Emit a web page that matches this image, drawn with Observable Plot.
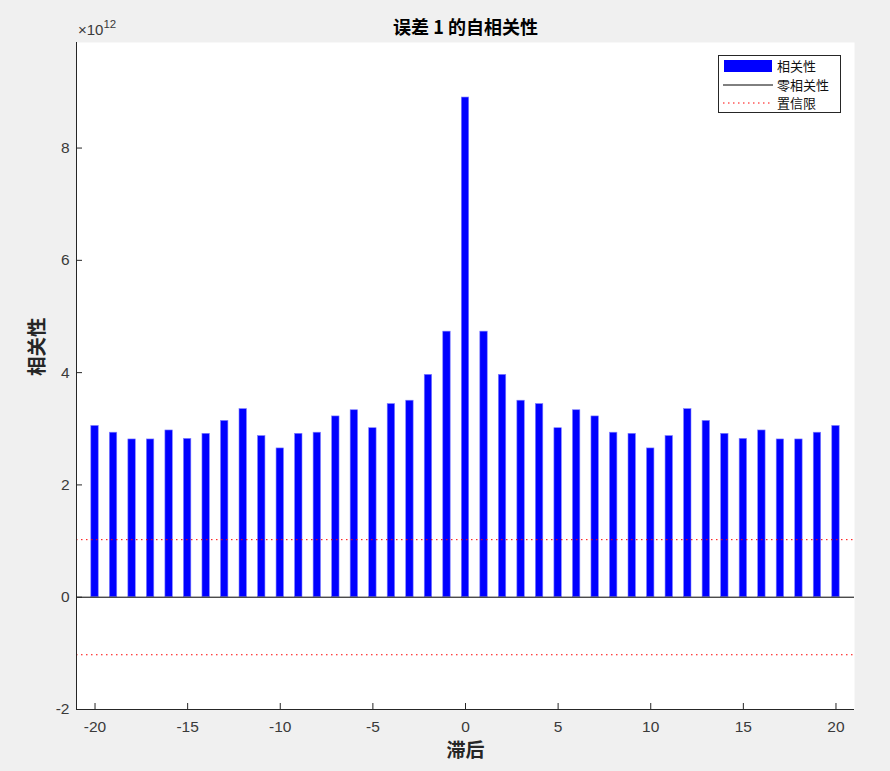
<!DOCTYPE html>
<html>
<head>
<meta charset="utf-8">
<script src="https://cdn.jsdelivr.net/npm/d3@7"></script>
<script src="https://cdn.jsdelivr.net/npm/@observablehq/plot@0.6"></script>
<style>
  html, body { margin: 0; padding: 0; background: #f0f0f0; }
  #wrap { position: relative; width: 890px; height: 771px; }
  #legend {
    position: absolute; left: 718px; top: 55px; width: 123px; height: 58px;
    background: #fff; border: 1px solid #262626; box-sizing: border-box;
    font-family: "Noto Sans CJK SC", sans-serif; font-size: 13px; color: #111;
  }
  #legend .row { position: absolute; left: 4px; height: 18px; display: flex; align-items: center; }
  #legend .row span { margin-left: 4px; line-height: 18px; }
</style>
</head>
<body>
<div id="wrap"></div>
<script>
const lags = [-20,-19,-18,-17,-16,-15,-14,-13,-12,-11,-10,-9,-8,-7,-6,-5,-4,-3,-2,-1,0,1,2,3,4,5,6,7,8,9,10,11,12,13,14,15,16,17,18,19,20];
const acf = [3.05,2.93,2.81,2.81,2.97,2.82,2.91,3.14,3.35,2.87,2.65,2.91,2.93,3.22,3.33,3.01,3.44,3.50,3.96,4.73,8.90,
             4.73,3.96,3.50,3.44,3.01,3.33,3.22,2.93,2.91,2.65,2.87,3.35,3.14,2.91,2.82,2.97,2.81,2.81,2.93,3.05];
const confBounds = [1.025, -1.025];
const xTicks = [-20,-15,-10,-5,0,5,10,15,20];
const yTicks = [-2,0,2,4,6,8];
const titleText = "误差 1 的自相关性";
const xLabel = "滞后";
const yLabel = "相关性";
const legendLabels = ["相关性","零相关性","置信限"];
const exponentLabel = "12";

const data = lags.map((l, i) => ({lag: l, value: acf[i]}));
const font = '"Liberation Sans", Arial, "Noto Sans CJK SC", sans-serif';
const cjk = '"Noto Sans CJK SC", sans-serif';
const axisColor = "#262626";
const labelColor = "#3a3a3a";
const W = 890, H = 771, mL = 76, mR = 36, mT = 42, mB = 62;
const plotH = H - mT - mB;

const chart = Plot.plot({
  width: W, height: H,
  marginLeft: mL, marginRight: mR, marginTop: mT, marginBottom: mB,
  style: {background: "#f0f0f0", fontFamily: font, fontSize: "15px", color: axisColor},
  x: {domain: [-21, 21], ticks: xTicks},
  y: {domain: [-2, 9.88], ticks: yTicks},
  marks: [
    Plot.frame({fill: "white", stroke: null}),
    Plot.rectY(data, {x1: d => d.lag - 0.2, x2: d => d.lag + 0.2, y1: 0, y2: "value", fill: "#0000ff", stroke: "#7f7fff", strokeWidth: 0.6}),
    Plot.ruleY([0], {stroke: "black", strokeWidth: 1}),
    Plot.ruleY(confBounds, {stroke: "#ff0000", strokeWidth: 1, strokeDasharray: "1.5,3.5"}),
    Plot.ruleY([-2], {stroke: axisColor, strokeWidth: 1}),
    Plot.ruleX([-21], {stroke: axisColor, strokeWidth: 1}),
    Plot.tickX(xTicks, {x: d => d, stroke: axisColor, insetTop: plotH - 6}),
    Plot.tickY(yTicks, {y: d => d, stroke: axisColor, insetRight: (W - mL - mR) - 6}),
    Plot.axisX({ticks: xTicks, tickSize: 0, tickPadding: 11, label: null, fontSize: 15.5, fill: labelColor, tickFormat: d => String(d)}),
    Plot.axisY({ticks: yTicks, tickSize: 0, tickPadding: 7, label: null, fontSize: 15.5, fill: labelColor, tickFormat: d => String(d)}),
    Plot.text([xLabel], {frameAnchor: "bottom", lineAnchor: "middle", dy: 41, fontSize: 19, fontWeight: "bold", fill: axisColor, fontFamily: cjk}),
    Plot.text([yLabel], {frameAnchor: "left", lineAnchor: "middle", rotate: -90, dx: -39, fontSize: 19.5, fontWeight: "bold", fill: axisColor, fontFamily: cjk}),
    Plot.text([titleText], {frameAnchor: "top", lineAnchor: "middle", dy: -14, fontSize: 18, fontWeight: "bold", fill: "#000", fontFamily: cjk})
  ]
});
document.getElementById("wrap").appendChild(chart);

// exponent multiplier label above the y axis
const svg = d3.select(chart);
const ex = svg.append("text")
  .attr("x", mL + 2).attr("y", mT - 7)
  .attr("text-anchor", "start")
  .attr("font-family", font).attr("font-size", 15).attr("fill", labelColor);
ex.append("tspan").text("×10");
ex.append("tspan").attr("dy", -7).attr("font-size", 11.5).text(exponentLabel);

// legend
const leg = document.createElement("div");
leg.id = "legend";
const swatches = [
  '<svg width="50" height="14"><rect x="1" y="1" width="48" height="12" fill="#0000ff"/></svg>',
  '<svg width="50" height="14"><line x1="0" x2="50" y1="7" y2="7" stroke="black" stroke-width="1"/></svg>',
  '<svg width="50" height="14"><line x1="0" x2="50" y1="7" y2="7" stroke="#ff0000" stroke-width="1" stroke-dasharray="1.5,3.5"/></svg>'
];
legendLabels.forEach((lab, i) => {
  const r = document.createElement("div");
  r.className = "row";
  r.style.top = (1 + i * 18.5) + "px";
  r.innerHTML = swatches[i] + "<span>" + lab + "</span>";
  leg.appendChild(r);
});
document.getElementById("wrap").appendChild(leg);
</script>
</body>
</html>
